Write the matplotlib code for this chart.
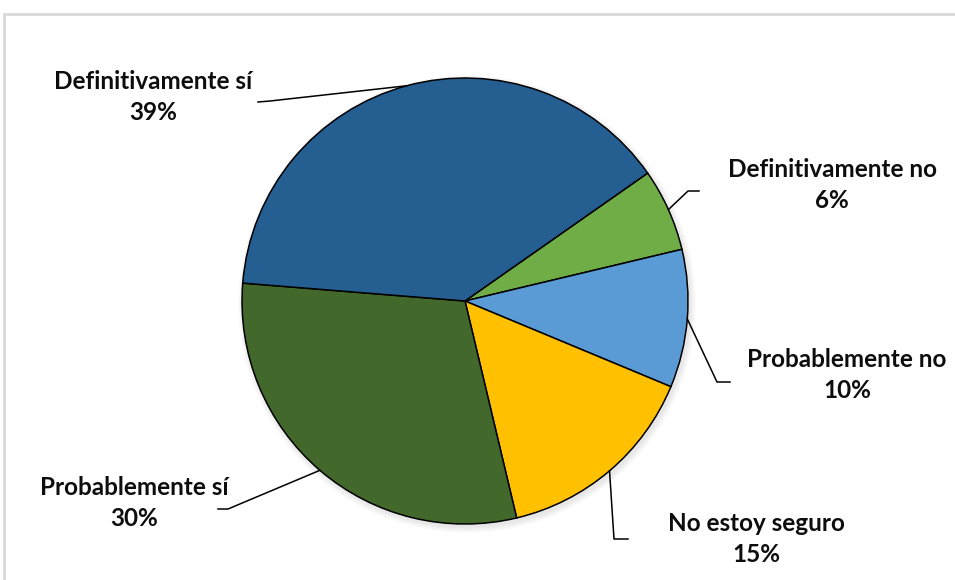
import numpy as np
import matplotlib.pyplot as plt
from matplotlib.patches import Rectangle, Circle

# Respuestas de la encuesta (sentido horario desde arriba a la derecha)
categorias = ["Definitivamente no", "Probablemente no", "No estoy seguro",
              "Probablemente sí", "Definitivamente sí"]
porcentajes = [6, 10, 15, 30, 39]
colores = ["#70AD47", "#5B9BD5", "#FFC000", "#43682B", "#255E91"]

W, H = 955, 580
CX, CY, R = 465, 301, 223

# posición del texto y punto de partida de la línea guía (px, origen arriba)
pos_texto = {
    "Definitivamente no": (832, 185),
    "Probablemente no": (847, 375),
    "No estoy seguro": (756, 539),
    "Probablemente sí": (134, 503),
    "Definitivamente sí": (153, 97),
}
guia = {
    "Definitivamente no": [(699, 191), (688, 191)],
    "Probablemente no": [(730, 382), (717, 382)],
    "No estoy seguro": [(628, 539), (614, 539)],
    "Probablemente sí": [(218, 509), (228, 509)],
    "Definitivamente sí": [(258, 102), (270, 101)],
}


def py(y):
    return H - y


plt.rcParams["font.family"] = ["Lato", "DejaVu Sans"]

fig = plt.figure(figsize=(W / 100, H / 100), dpi=100)
ax = fig.add_axes([0, 0, 1, 1])

# marco gris del área del gráfico
fig.patches.append(Rectangle((4 / W, -0.5), 2, 1.5 - 14 / H, transform=fig.transFigure,
                             fill=False, edgecolor="#D9D9D9", linewidth=2))

# sombra suave
for i in range(8):
    ax.add_patch(Circle((CX + 2, py(CY) - 3), R + 6 - i * 0.8,
                        color="black", alpha=0.012, lw=0, zorder=1))

wedges, _ = ax.pie(porcentajes, colors=colores, startangle=35, counterclock=False,
                   center=(CX, py(CY)), radius=R, frame=True,
                   wedgeprops=dict(edgecolor="black", linewidth=1.1, zorder=2))
ax.set_xlim(0, W)
ax.set_ylim(0, H)
ax.set_aspect("equal")
ax.axis("off")

for w, cat, p in zip(wedges, categorias, porcentajes):
    ang = np.deg2rad((w.theta1 + w.theta2) / 2)
    ex = CX + R * np.cos(ang)
    ey = py(CY) + R * np.sin(ang)
    pts = guia[cat]
    xs = [pts[0][0], pts[1][0], ex]
    ys = [py(pts[0][1]), py(pts[1][1]), ey]
    ax.plot(xs, ys, color="black", linewidth=1.1, zorder=3)
    tx, ty = pos_texto[cat]
    ax.text(tx, py(ty), f"{cat}\n{p}%", ha="center", va="center",
            fontsize=17.5, fontweight="bold", color="#0D0D0D", linespacing=1.38)

fig.savefig("out.png", dpi=100)
